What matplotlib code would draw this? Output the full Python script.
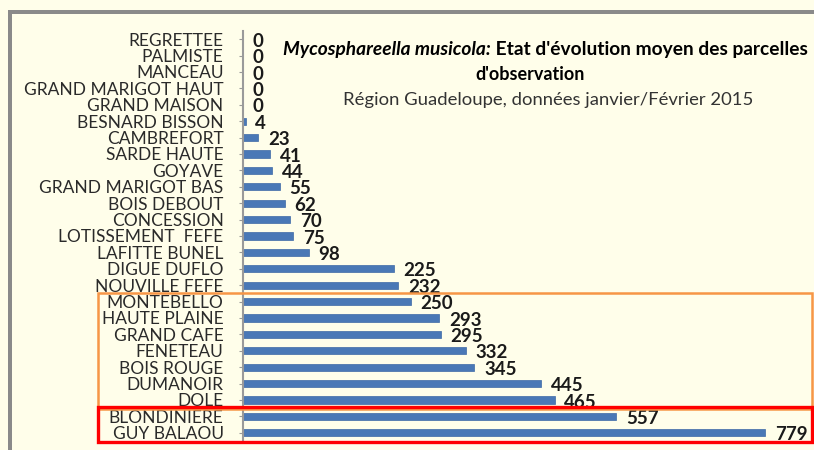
import numpy as np
import matplotlib.pyplot as plt
import matplotlib.transforms as mtransforms
from matplotlib.patches import Rectangle

# Données (de haut en bas)
parcelles = ['REGRETTEE', 'PALMISTE', 'MANCEAU', 'GRAND MARIGOT HAUT', 'GRAND MAISON',
             'BESNARD BISSON', 'CAMBREFORT', 'SARDE HAUTE', 'GOYAVE', 'GRAND MARIGOT BAS',
             'BOIS DEBOUT', 'CONCESSION', 'LOTISSEMENT  FEFE', 'LAFITTE BUNEL', 'DIGUE DUFLO',
             'NOUVILLE FEFE', 'MONTEBELLO', 'HAUTE PLAINE', 'GRAND CAFE', 'FENETEAU',
             'BOIS ROUGE', 'DUMANOIR', 'DOLE', 'BLONDINIERE', 'GUY BALAOU']
etat = [0, 0, 0, 0, 0, 4, 23, 41, 44, 55, 62, 70, 75, 98, 225, 232,
        250, 293, 295, 332, 345, 445, 465, 557, 779]
groupe_orange = ['MONTEBELLO', 'DOLE']
groupe_rouge = ['BLONDINIERE', 'GUY BALAOU']

fond = '#fffeea'
plt.rcParams['font.family'] = ['Lato', 'DejaVu Sans']

fig = plt.figure(figsize=(8.14, 4.5), dpi=100, facecolor=fond)
ax = fig.add_axes([243/814, 1 - 441/450, (812-243)/814, 410/450])
ax.set_facecolor('none')

y = np.arange(len(parcelles))
ax.barh(y, etat, height=0.45, color='#4a78b6', edgecolor='#3d69a6', linewidth=0.5)
ax.set_ylim(len(parcelles) - 0.5, -0.5)
ax.set_xlim(0, 849)
ax.set_yticks(y)
ax.set_yticklabels(parcelles, fontsize=12.5, color='#2a2a2a')
ax.tick_params(axis='y', length=3, color='#999999', pad=11)
ax.set_xticks([])
for s in ['top', 'right', 'bottom']:
    ax.spines[s].set_visible(False)
ax.spines['left'].set_color('#9a9a9a')
ax.spines['left'].set_linewidth(1.5)

for yi, v in zip(y, etat):
    ax.annotate(str(v), (v, yi), xytext=(7, -1.5), textcoords='offset points',
                va='center', ha='left', fontsize=13.5, fontweight='bold', color='#1a1a1a')

# Titre
t1 = fig.text(283/814, 1 - 50/450, 'Mycosphareella musicola:', fontsize=13.8,
              fontstyle='italic', fontweight='bold', va='center', ha='left')
ax.annotate(" Etat d'évolution moyen des parcelles", xy=(1, 0), xycoords=t1,
            va='bottom', ha='left', fontsize=13.8, fontweight='bold', annotation_clip=False)
fig.text(530/814, 1 - 75/450, "d'observation", fontsize=13, fontweight='bold',
         va='center', ha='center')
fig.text(548/814, 1 - 100/450, 'Région Guadeloupe, données janvier/Février 2015',
         fontsize=13.3, va='center', ha='center', color='#333333')

# Cadres de mise en évidence
trans = mtransforms.blended_transform_factory(fig.transFigure, ax.transData)
for (a, b), col, lw in [(groupe_orange, '#f79646', 1.8), (groupe_rouge, '#ff0000', 2.4)]:
    i0, i1 = parcelles.index(a), parcelles.index(b)
    r = Rectangle((98/814, i0 - 0.55), (812-98)/814, i1 - i0 + 1.1, transform=trans,
                  fill=False, edgecolor=col, linewidth=lw, clip_on=False)
    fig.add_artist(r)

# Bordure grise
fig.add_artist(Rectangle((8/814, 0), 4/814, 1 - 10/450, transform=fig.transFigure,
                         color='#8a8a8a', lw=0))
fig.add_artist(Rectangle((8/814, 1 - 14/450), 1, 4/450, transform=fig.transFigure,
                         color='#8a8a8a', lw=0))

fig.savefig('out.png', dpi=100, facecolor=fond)
